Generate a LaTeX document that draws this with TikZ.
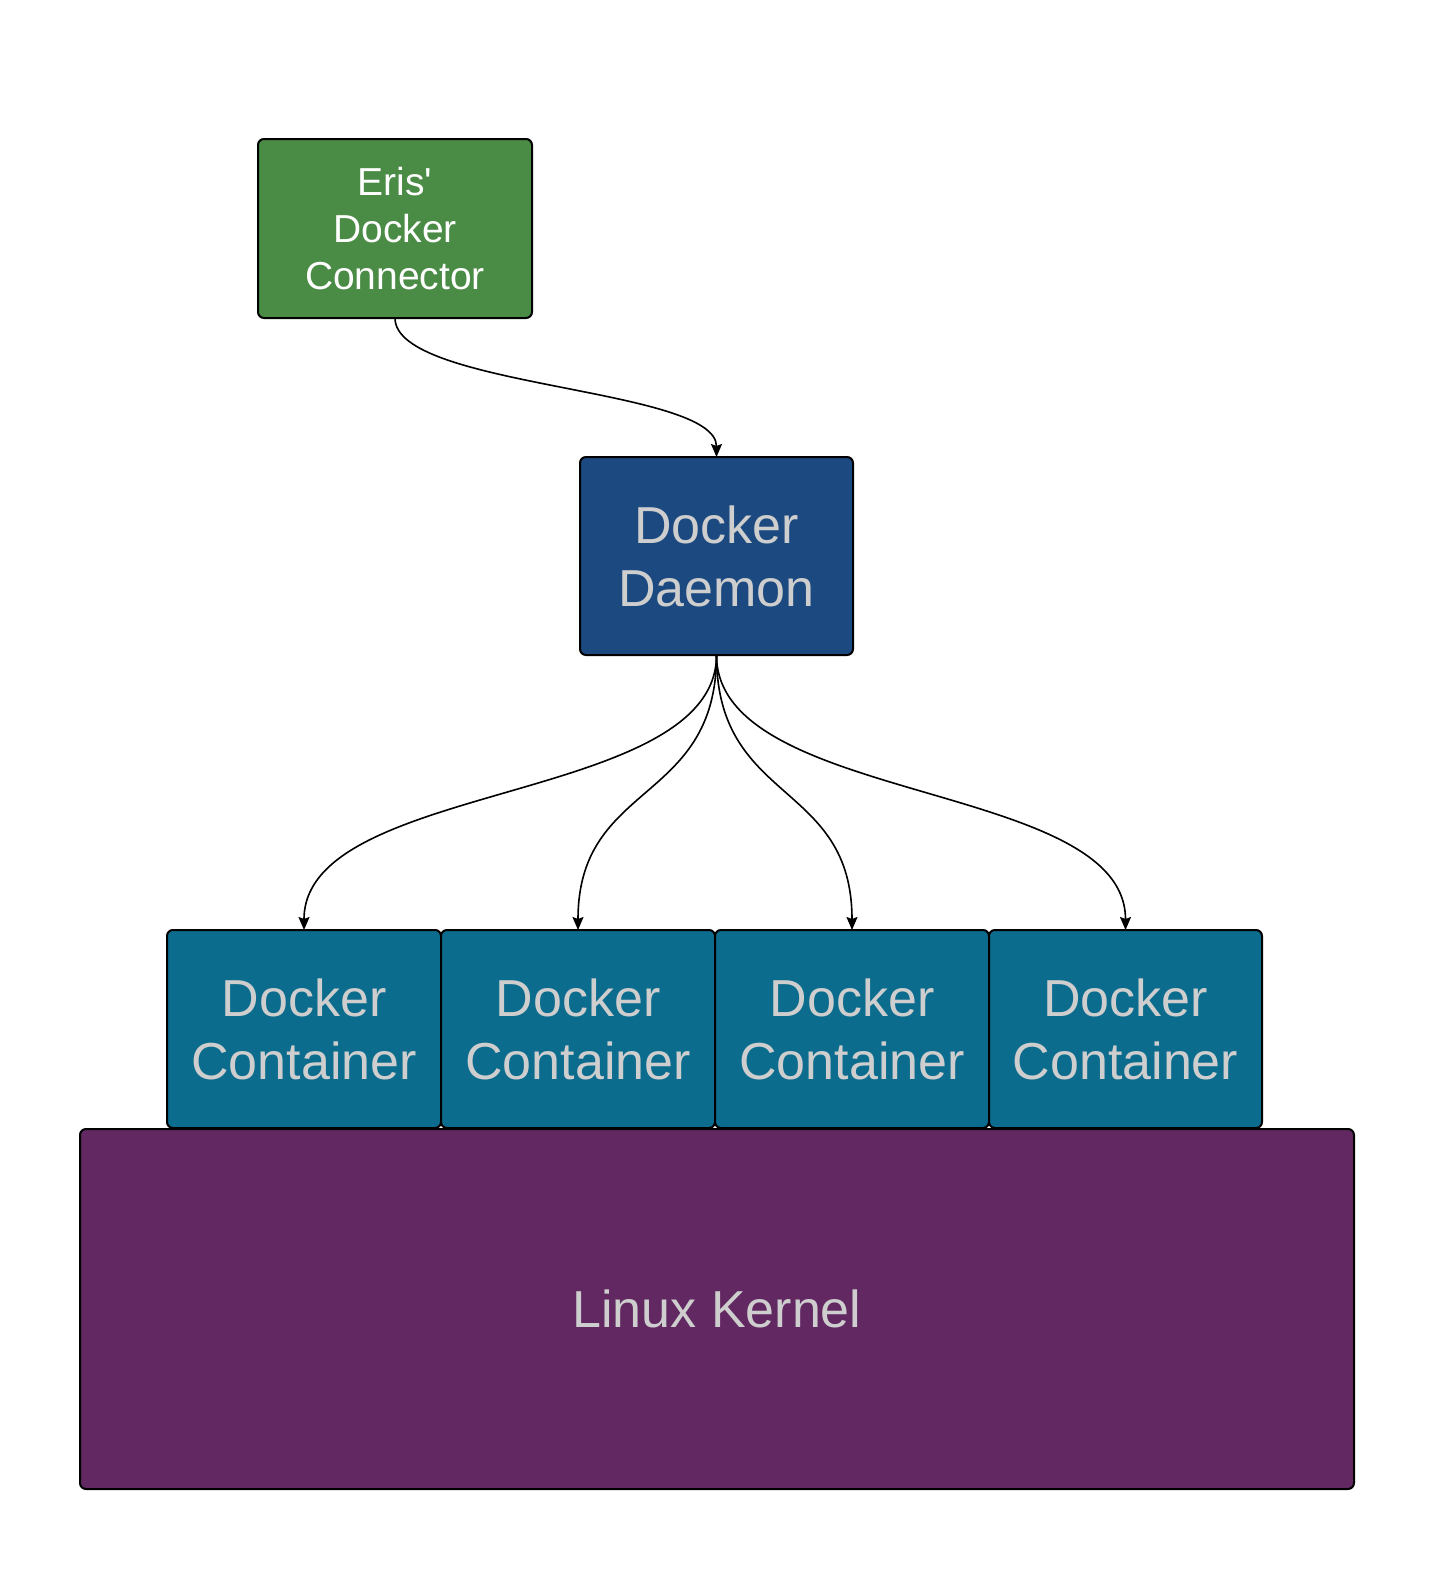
\documentclass[tikz,border=0pt]{standalone}
\usepackage{fontspec}
\setmainfont{Liberation Sans}[Ligatures=TeXOff]
\usetikzlibrary{arrows.meta}
\definecolor{erisgreen}{HTML}{4A8B45}
\definecolor{daemonblue}{HTML}{1C4A80}
\definecolor{contteal}{HTML}{0C6C8D}
\definecolor{kernpurple}{HTML}{612862}
\definecolor{lightgray}{HTML}{CECECE}
\tikzset{
  box/.style={draw=black, line width=2pt, rounded corners=6pt, inner sep=0pt, outer sep=0pt, align=center, anchor=north west},
  bigtext/.style={text=lightgray, font=\fontsize{52}{63}\selectfont},
  conn/.style={line width=1.6pt, -{Stealth[length=13pt,width=11pt,inset=2pt]}},
}
\begin{document}
\begin{tikzpicture}[x=1pt,y=-1pt]
\useasboundingbox (0,0) rectangle (1443,1580);
\node[box, fill=erisgreen, minimum width=274pt, minimum height=179pt, text=white, font=\fontsize{39}{47}\selectfont] (eris) at (258,139) {Eris'\\Docker\\Connector};
\node[box, fill=daemonblue, minimum width=273pt, minimum height=198pt, bigtext] (daemon) at (580,457) {Docker\\Daemon};
\node[box, fill=kernpurple, minimum width=1274pt, minimum height=360pt, bigtext] (kernel) at (80,1129) {Linux Kernel};
\node[box, fill=contteal, minimum width=274pt, minimum height=198pt, bigtext] (c1) at (167,930) {Docker\\Container};
\node[box, fill=contteal, minimum width=274pt, minimum height=198pt, bigtext] (c2) at (441,930) {Docker\\Container};
\node[box, fill=contteal, minimum width=274pt, minimum height=198pt, bigtext] (c3) at (715,930) {Docker\\Container};
\node[box, fill=contteal, minimum width=273pt, minimum height=198pt, bigtext] (c4) at (989,930) {Docker\\Container};
\draw[conn] (eris.south) .. controls ([yshift=-70pt]eris.south) and ([yshift=70pt]daemon.north) .. (daemon.north);
\foreach \c in {c1,c2,c3,c4}{
  \draw[conn] (daemon.south) .. controls ([yshift=-150pt]daemon.south) and ([yshift=150pt]\c.north) .. (\c.north);
}
\end{tikzpicture}
\end{document}
